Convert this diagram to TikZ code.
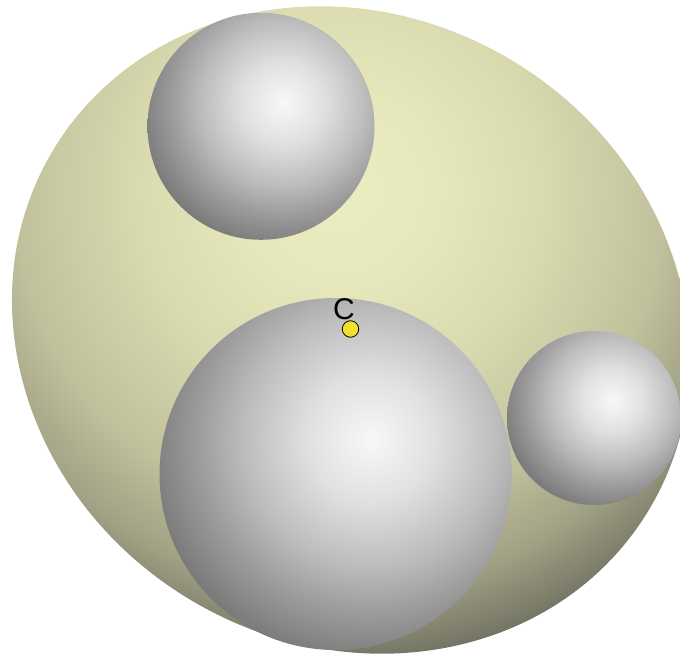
\documentclass[tikz,border=0pt]{standalone}
\usepackage{fontspec}
\setmainfont{Liberation Sans}
\definecolor{gA}{RGB}{248,248,248}
\definecolor{gB}{RGB}{224,224,224}
\definecolor{gC}{RGB}{188,188,188}
\definecolor{gD}{RGB}{156,156,156}
\definecolor{gE}{RGB}{120,120,120}
\definecolor{yA}{RGB}{236,236,194}
\definecolor{yB}{RGB}{231,231,188}
\definecolor{yC}{RGB}{218,218,176}
\definecolor{yD}{RGB}{192,192,156}
\definecolor{yE}{RGB}{160,160,132}
\definecolor{yF}{RGB}{110,110,96}
\definecolor{dotyellow}{RGB}{240,224,48}
\pgfdeclareradialshading{graysph}{\pgfpointorigin}{%
  color(0bp)=(gA); color(7bp)=(gB); color(14bp)=(gC); color(19bp)=(gD); color(25bp)=(gE); color(50bp)=(gE)}
\pgfdeclareradialshading{yelsph}{\pgfpointorigin}{%
  color(0bp)=(yA); color(5bp)=(yB); color(10.5bp)=(yC); color(17bp)=(yD); color(21bp)=(yE); color(25bp)=(yF); color(50bp)=(yF)}
\tikzset{
  graysphere/.style={shading=graysph},
  yellowsphere/.style={shading=yelsph},
  pointdot/.style={circle, draw=black, fill=dotyellow, line width=0.8pt, inner sep=0pt, minimum size=16.5pt},
  pointlabel/.style={font=\fontsize{30}{30}\selectfont, inner sep=0pt}
}
\begin{document}
\begin{tikzpicture}[x=1pt,y=1pt]
\useasboundingbox (0,0) rectangle (680,657);
\clip (0,0) rectangle (680,657);
% large yellow sphere
\begin{scope}
  \clip[shift={(351,327)},rotate=-31.6] (0,0) ellipse [x radius=348, y radius=314];
  \shade[yellowsphere] (340,467) circle (480);
\end{scope}
% top sphere
\begin{scope}
  \clip (261,530.7) circle (113.5);
  \shade[graysphere] (283,554) circle (147);
\end{scope}
% big lower sphere
\begin{scope}
  \clip (335.5,183) circle (176);
  \shade[graysphere] (370.7,218.2) circle (228);
\end{scope}
% right sphere
\begin{scope}
  \clip (594,239) circle (87);
  \shade[graysphere] (612,257) circle (113);
\end{scope}
% point C
\node[pointdot] (cdot) at (350.5,328) {};
\node[pointlabel] (clabel) at (344,348) {C};
\end{tikzpicture}
\end{document}
